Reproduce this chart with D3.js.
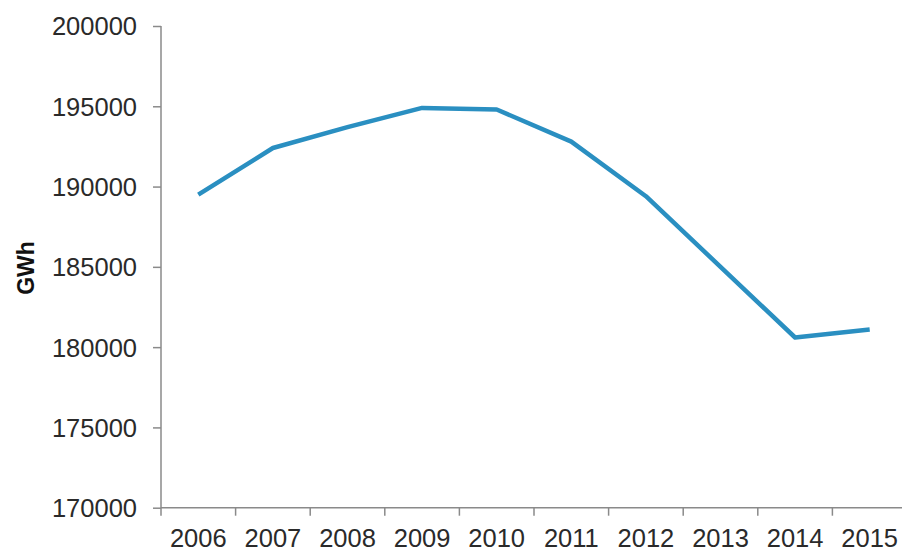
<!DOCTYPE html>
<html><head><meta charset="utf-8">
<script src="https://cdn.jsdelivr.net/npm/d3@7"></script>
<style>
html,body{margin:0;padding:0;background:#fff;}
svg{display:block;font-family:"Liberation Sans",Arial,sans-serif;}
</style></head>
<body><svg id="c" width="902" height="554"></svg>
<script>
const years = ["2006","2007","2008","2009","2010","2011","2012","2013","2014","2015"];
const values = [189500, 192400, 193700, 194900, 194800, 192800, 189400, 185000, 180600, 181100];
const yTicks = [170000, 175000, 180000, 185000, 190000, 195000, 200000];
const yLabel = "GWh";

const svg = d3.select("#c");
const x = d3.scaleBand().domain(years).range([161, 907]).paddingInner(0).paddingOuter(0);
const y = d3.scaleLinear().domain([170000, 200000]).range([507.7, 26]);
const axisColor = "#8a8a8a";

// Y axis
const yAxis = svg.append("g").attr("transform", "translate(161,0)")
  .call(d3.axisLeft(y).tickValues(yTicks).tickSize(8).tickPadding(16).tickFormat(d3.format("d")));
yAxis.select(".domain").remove();
yAxis.selectAll(".tick line").attr("stroke", axisColor).attr("stroke-width", 1.5);
yAxis.selectAll(".tick text").attr("font-size", 25.5).attr("fill", "#2a2a2a")
  .attr("font-family", "Liberation Sans, Arial, sans-serif").attr("dy", "0.35em");
svg.append("line").attr("x1", 161).attr("x2", 161).attr("y1", y(200000)).attr("y2", y(170000) + 8)
  .attr("stroke", axisColor).attr("stroke-width", 1.5);

// X axis
const xg = svg.append("g").attr("transform", `translate(0,${y(170000)})`);
xg.append("line").attr("x1", 161).attr("x2", 907).attr("y1", 0).attr("y2", 0)
  .attr("stroke", axisColor).attr("stroke-width", 1.5);
xg.selectAll("line.tk").data(years.slice(1)).enter().append("line").attr("class", "tk")
  .attr("x1", d => x(d)).attr("x2", d => x(d)).attr("y1", 0).attr("y2", 8)
  .attr("stroke", axisColor).attr("stroke-width", 1.5);
xg.selectAll("text").data(years).enter().append("text")
  .attr("x", d => x(d) + x.bandwidth() / 2).attr("y", 39)
  .attr("text-anchor", "middle").attr("font-size", 25.5).attr("fill", "#2a2a2a")
  .text(d => d);

// Y label
svg.append("text").attr("transform", "translate(34,268) rotate(-90)")
  .attr("text-anchor", "middle").attr("font-size", 23).attr("font-weight", "bold")
  .attr("fill", "#111").text(yLabel);

// Line
const data = years.map((d, i) => ({year: d, value: values[i]}));
svg.append("path").datum(data)
  .attr("fill", "none").attr("stroke", "#2a8fc1").attr("stroke-width", 4.5)
  .attr("stroke-linejoin", "round")
  .attr("d", d3.line().x(d => x(d.year) + x.bandwidth() / 2).y(d => y(d.value)));
</script></body></html>
